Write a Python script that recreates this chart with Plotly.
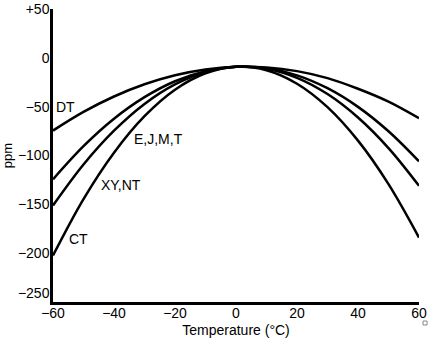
import plotly.graph_objects as go

# Frequency deviation (ppm) versus temperature for several crystal cuts
temperature = [-60, -50, -40, -30, -20, -10, 0, 10, 20, 30, 40, 50, 60]

dt_ppm = [-74.5, -55.4, -39.6, -27.1, -17.8, -11.9, -9.2, -9.8, -13.6, -20.8, -31.7, -44.9, -61.9]
ejmt_ppm = [-124.4, -90.5, -62.4, -40.3, -24.0, -13.7, -9.2, -10.6, -17.9, -31.1, -50.2, -75.2, -106.0]
xynt_ppm = [-151.2, -109.2, -74.6, -47.2, -27.2, -14.5, -9.2, -11.2, -20.5, -37.1, -61.1, -92.4, -131.0]
ct_ppm = [-202.4, -144.6, -97.1, -59.7, -32.6, -15.8, -9.1, -12.7, -26.5, -50.5, -84.8, -129.3, -184.0]

x_ticks = [-60, -40, -20, 0, 20, 40, 60]
y_ticks = [50, 0, -50, -100, -150, -200, -250]
# the bottom label is lifted above the x axis so it clears the "-60" label
y_tick_text = ["+50", "0", "\u221250", "\u2212100", "\u2212150", "\u2212200", "\u2212250<br> "]

series = [
    ("DT", dt_ppm),
    ("E,J,M,T", ejmt_ppm),
    ("XY,NT", xynt_ppm),
    ("CT", ct_ppm),
]

FONT = "Liberation Sans, Arial, sans-serif"

fig = go.Figure()
for name, values in series:
    fig.add_trace(go.Scatter(
        x=temperature, y=values, name=name, mode="lines",
        line=dict(color="black", width=2.5, shape="spline", smoothing=1.0),
        showlegend=False, hoverinfo="x+y+name",
    ))

# Curve labels placed beside their curves
curve_labels = [
    ("DT", -59.6, -50),
    ("E,J,M,T", -34.0, -83),
    ("XY,NT", -45.0, -130),
    ("CT", -55.5, -186),
]
for text, x, y in curve_labels:
    fig.add_annotation(x=x, y=y, text=text, showarrow=False,
                       xanchor="left", yanchor="middle",
                       font=dict(family=FONT, size=14, color="black"))

# small outlined square below the right end of the axis
fig.add_shape(type="rect", xref="paper", yref="paper",
              x0=1.011, x1=1.022, y0=-0.0785, y1=-0.065,
              line=dict(color="#888888", width=1), fillcolor="white")

fig.update_layout(
    width=434, height=339,
    margin=dict(l=53, r=15, t=9, b=37),
    paper_bgcolor="white", plot_bgcolor="white",
    font=dict(family=FONT, color="black"),
    xaxis=dict(
        range=[-60, 60], tickvals=x_ticks, automargin=False,
        showgrid=False, zeroline=False, ticks="",
        showline=True, linecolor="black", linewidth=2.5,
        tickfont=dict(size=14, color="black"),
        ticklabelstandoff=-4,
        title=dict(text="Temperature (\u00b0C)", font=dict(size=14, color="black"), standoff=6),
    ),
    yaxis=dict(
        range=[-250, 50], tickvals=y_ticks, ticktext=y_tick_text, automargin=False,
        showgrid=False, zeroline=False, ticks="",
        showline=True, linecolor="black", linewidth=2.5,
        tickfont=dict(size=14, color="black"),
        ticklabelstandoff=-2,
        title=dict(text="ppm", font=dict(size=13, color="black"), standoff=6),
    ),
)

fig.write_html("out.html")
